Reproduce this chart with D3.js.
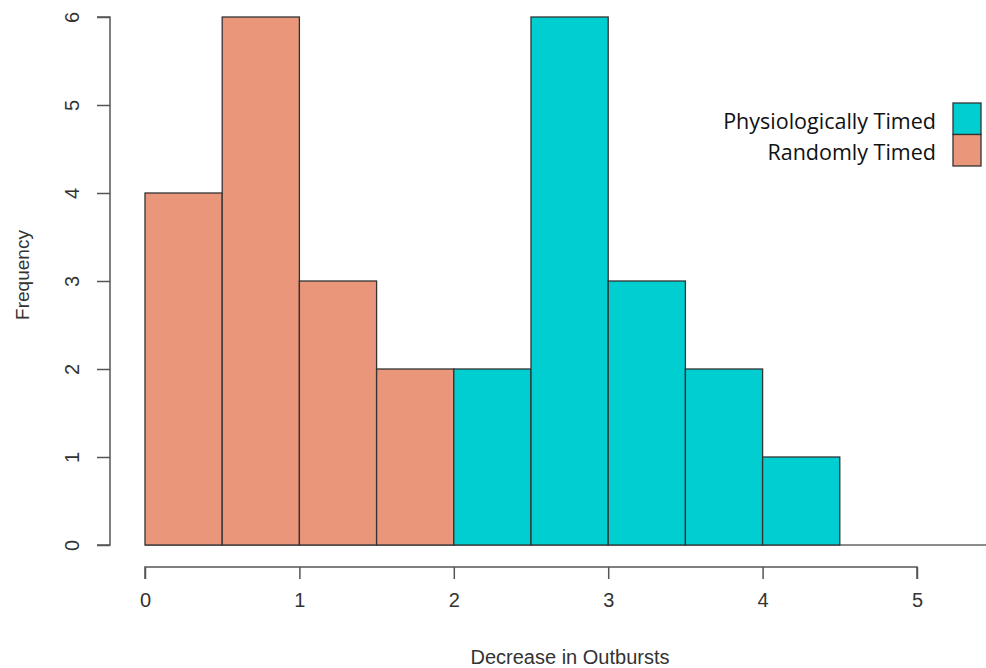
<!DOCTYPE html>
<html>
<head>
<meta charset="utf-8">
<script src="https://cdn.jsdelivr.net/npm/d3@7"></script>
<style>
  body { margin: 0; background: #fff; }
  svg { display: block; }
  .tick text { font-family: "Liberation Sans", Arial, sans-serif; }
</style>
</head>
<body>
<script>
// bins of width 0.5
var randomBins = [0, 0.5, 1, 1.5];
var randomCounts = [4, 6, 3, 2];
var physioBins = [2, 2.5, 3, 3.5, 4];
var physioCounts = [2, 6, 3, 2, 1];
var binWidth = 0.5;
var xTicks = [0, 1, 2, 3, 4, 5];
var yTicks = [0, 1, 2, 3, 4, 5, 6];
var legendLabels = ["Physiologically Timed", "Randomly Timed"];
var colors = { physio: "#00CED1", random: "#E9967A" };

var width = 986, height = 668;

var x = d3.scaleLinear().domain([0, 5]).range([145, 917]);
var y = d3.scaleLinear().domain([0, 6]).range([545, 17]);

var svg = d3.select("body").append("svg")
  .attr("width", width)
  .attr("height", height);

var bars = [];
randomBins.forEach(function(b, i) { bars.push({ x0: b, n: randomCounts[i], c: colors.random }); });
physioBins.forEach(function(b, i) { bars.push({ x0: b, n: physioCounts[i], c: colors.physio }); });

// baseline
svg.append("line")
  .attr("x1", x(0)).attr("x2", width)
  .attr("y1", y(0)).attr("y2", y(0))
  .attr("stroke", "#666").attr("stroke-width", 1.5);

svg.selectAll("rect.bar")
  .data(bars)
  .enter().append("rect")
  .attr("class", "bar")
  .attr("x", function(d) { return x(d.x0); })
  .attr("y", function(d) { return y(d.n); })
  .attr("width", function(d) { return x(d.x0 + binWidth) - x(d.x0); })
  .attr("height", function(d) { return y(0) - y(d.n); })
  .attr("fill", function(d) { return d.c; })
  .attr("stroke", "#333")
  .attr("stroke-width", 1.3);

// x axis
var xAxis = svg.append("g")
  .attr("transform", "translate(0,567)")
  .call(d3.axisBottom(x).tickValues(xTicks).tickSize(12).tickPadding(14).tickFormat(d3.format("d")));
xAxis.select(".domain").attr("stroke", "#555").attr("stroke-width", 1.5)
  .attr("d", "M" + x(0) + ",12V0H" + x(5) + "V12");
xAxis.selectAll(".tick line").attr("stroke", "#555").attr("stroke-width", 1.5);
xAxis.selectAll(".tick text").attr("font-size", 20).attr("fill", "#333");

// y axis
var yAxis = svg.append("g")
  .attr("transform", "translate(110,0)")
  .call(d3.axisLeft(y).tickValues(yTicks).tickSize(13).tickFormat(d3.format("d")));
yAxis.select(".domain").attr("stroke", "#555").attr("stroke-width", 1.5)
  .attr("d", "M-13," + y(0) + "H0V" + y(6) + "H-13");
yAxis.selectAll(".tick line").attr("stroke", "#555").attr("stroke-width", 1.5);
yAxis.selectAll(".tick text")
  .attr("font-size", 20).attr("fill", "#333")
  .attr("x", null).attr("dy", null)
  .attr("text-anchor", "middle")
  .attr("transform", "translate(-38,0) rotate(-90)")
  .attr("y", 0)
  .attr("dominant-baseline", "central");

// axis titles
svg.append("text")
  .attr("x", 570).attr("y", 664)
  .attr("text-anchor", "middle")
  .attr("font-family", "Liberation Sans, Arial, sans-serif")
  .attr("font-size", 20).attr("fill", "#333")
  .text("Decrease in Outbursts");

svg.append("text")
  .attr("transform", "translate(29,275) rotate(-90)")
  .attr("text-anchor", "middle")
  .attr("font-family", "Liberation Sans, Arial, sans-serif")
  .attr("font-size", 19).attr("fill", "#333")
  .text("Frequency");

// legend
var legendColors = [colors.physio, colors.random];
var legend = svg.append("g");
legend.selectAll("rect")
  .data(legendLabels)
  .enter().append("rect")
  .attr("x", 953)
  .attr("y", function(d, i) { return 103 + i * 31.5; })
  .attr("width", 28)
  .attr("height", 31.5)
  .attr("fill", function(d, i) { return legendColors[i]; })
  .attr("stroke", "#333")
  .attr("stroke-width", 1.3);
legend.selectAll("text")
  .data(legendLabels)
  .enter().append("text")
  .attr("x", 936)
  .attr("y", function(d, i) { return 120 + i * 31.5; })
  .attr("text-anchor", "end")
  .attr("dominant-baseline", "central")
  .attr("font-family", "'Open Sans', sans-serif")
  .attr("font-size", 21.5)
  .attr("fill", "#111")
  .text(function(d) { return d; });
</script>
</body>
</html>
